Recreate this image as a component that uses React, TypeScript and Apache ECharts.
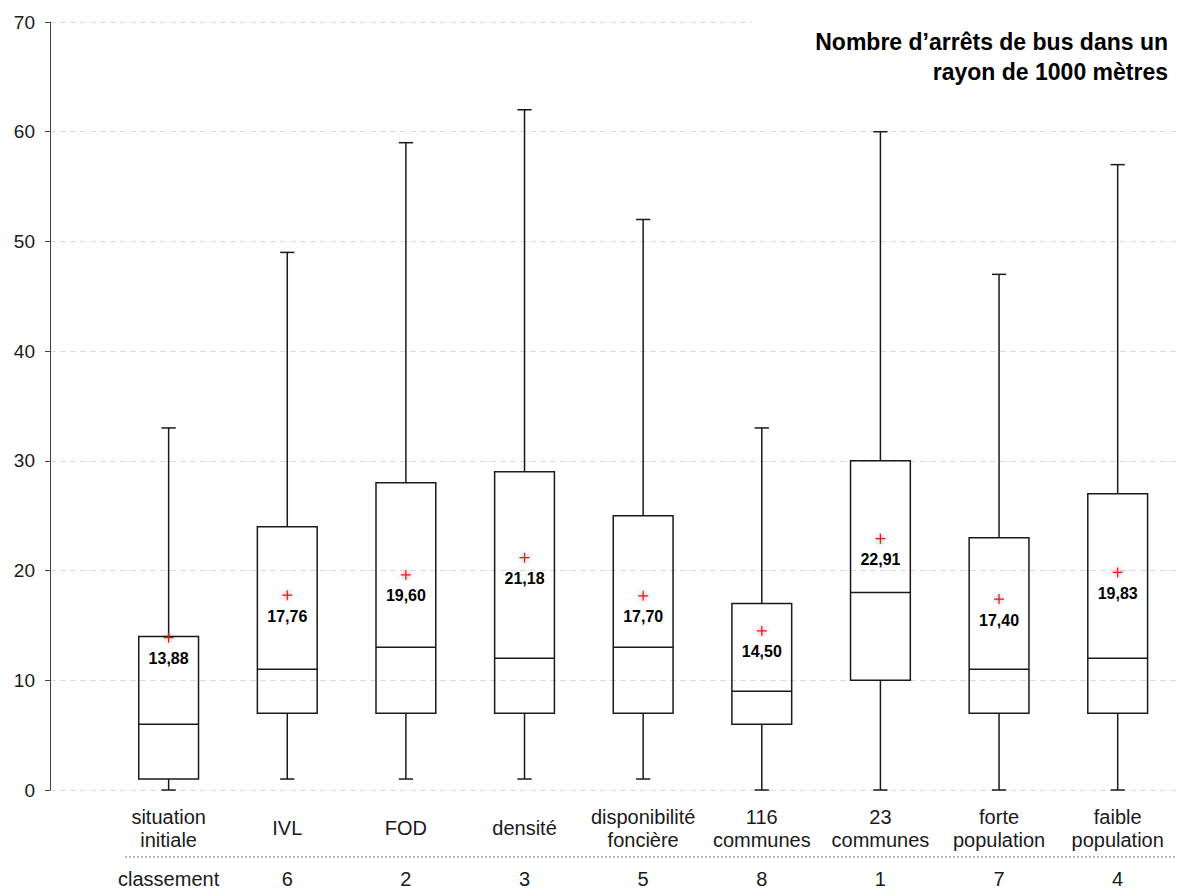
import React, { useEffect, useRef } from "react";
import * as echarts from "echarts";

const categories = [
  "situation\ninitiale",
  "IVL",
  "FOD",
  "densité",
  "disponibilité\nfoncière",
  "116\ncommunes",
  "23\ncommunes",
  "forte\npopulation",
  "faible\npopulation",
];
const whiskerLow = [0, 1, 1, 1, 1, 0, 0, 0, 0];
const q1 = [1, 7, 7, 7, 7, 6, 10, 7, 7];
const median = [6, 11, 13, 12, 13, 9, 18, 11, 12];
const q3 = [14, 24, 28, 29, 25, 17, 30, 23, 27];
const whiskerHigh = [33, 49, 59, 62, 52, 33, 60, 47, 57];
const means = [13.88, 17.76, 19.6, 21.18, 17.7, 14.5, 22.91, 17.4, 19.83];
const rankHeader = "classement";
const ranks = [6, 2, 3, 5, 8, 1, 7, 4];
const yTicks = [0, 10, 20, 30, 40, 50, 60, 70];
const titleLines = ["Nombre d’arrêts de bus dans un", "rayon de 1000 mètres"];

const FONT = '"Liberation Sans", Arial, Helvetica, sans-serif';

export default function App() {
  const ref = useRef<HTMLDivElement>(null);

  useEffect(() => {
    const chart = echarts.init(ref.current!, null, { renderer: "svg" });
    const boxData = categories.map((_, i) => [
      i + 1,
      whiskerLow[i],
      q1[i],
      median[i],
      q3[i],
      whiskerHigh[i],
    ]);
    const meanData = means.map((m, i) => [i + 1, m]);
    const stroke = "#1a1a1a";

    const option: any = {
      animation: false,
      backgroundColor: "#fff",
      textStyle: { fontFamily: FONT },
      grid: { left: 50, right: 0, top: 22, bottom: 101, containLabel: false },
      xAxis: [
        {
          type: "value",
          min: 0,
          max: 9.5,
          interval: 1,
          position: "bottom",
          axisLine: { show: false },
          axisTick: { show: false },
          splitLine: { show: false },
          axisLabel: {
            margin: 38,
            verticalAlign: "middle",
            fontSize: 20,
            lineHeight: 23,
            color: "#1a1a1a",
            fontFamily: FONT,
            showMaxLabel: false,
            formatter: (v: number) =>
              Number.isInteger(v) && v >= 1 && v <= categories.length ? categories[v - 1] : "",
          },
        },
        {
          type: "value",
          min: 0,
          max: 9.5,
          interval: 1,
          position: "bottom",
          offset: 0,
          axisLine: { show: false },
          axisTick: { show: false },
          splitLine: { show: false },
          axisLabel: {
            margin: 89,
            verticalAlign: "middle",
            fontSize: 20,
            color: "#1a1a1a",
            fontFamily: FONT,
            showMaxLabel: false,
            formatter: (v: number) => {
              if (v === 1) return rankHeader;
              if (Number.isInteger(v) && v >= 2 && v <= ranks.length + 1) return String(ranks[v - 2]);
              return "";
            },
          },
        },
      ],
      yAxis: {
        type: "value",
        min: yTicks[0],
        max: yTicks[yTicks.length - 1],
        interval: 10,
        axisLine: { show: true, lineStyle: { color: "#444", width: 1 } },
        axisTick: { show: true, length: 5, lineStyle: { color: "#444" } },
        axisLabel: { fontSize: 19, color: "#1a1a1a", margin: 15, fontFamily: FONT },
        splitLine: { show: true, lineStyle: { color: "#dcdcdc", type: [6, 4], width: 1 } },
      },
      series: [
        {
          type: "custom",
          xAxisIndex: 0,
          encode: { x: 0, y: [1, 2, 3, 4, 5] },
          data: boxData,
          z: 3,
          renderItem: (params: any, api: any) => {
            const x = api.value(0);
            const unit = api.size([1, 0])[0];
            const half = unit * 0.252;
            const cap = unit * 0.06;
            const pLow = api.coord([x, api.value(1)]);
            const pQ1 = api.coord([x, api.value(2)]);
            const pMed = api.coord([x, api.value(3)]);
            const pQ3 = api.coord([x, api.value(4)]);
            const pHigh = api.coord([x, api.value(5)]);
            const cx = pQ1[0];
            const ls = { stroke, lineWidth: 1.5, fill: null };
            return {
              type: "group",
              children: [
                { type: "line", shape: { x1: cx, y1: pHigh[1], x2: cx, y2: pQ3[1] }, style: ls },
                { type: "line", shape: { x1: cx, y1: pQ1[1], x2: cx, y2: pLow[1] }, style: ls },
                { type: "line", shape: { x1: cx - cap, y1: pHigh[1], x2: cx + cap, y2: pHigh[1] }, style: ls },
                { type: "line", shape: { x1: cx - cap, y1: pLow[1], x2: cx + cap, y2: pLow[1] }, style: ls },
                {
                  type: "rect",
                  shape: { x: cx - half, y: pQ3[1], width: half * 2, height: pQ1[1] - pQ3[1] },
                  style: { stroke, lineWidth: 1.5, fill: "none" },
                },
                { type: "line", shape: { x1: cx - half, y1: pMed[1], x2: cx + half, y2: pMed[1] }, style: ls },
              ],
            };
          },
        },
        {
          type: "scatter",
          xAxisIndex: 0,
          data: meanData,
          z: 5,
          symbol: "path://M4.4,0H5.6V4.4H10V5.6H5.6V10H4.4V5.6H0V4.4H4.4Z",
          symbolSize: 10,
          itemStyle: {
            color: "#e8141b",
            opacity: 1,
            shadowBlur: 5,
            shadowColor: "rgba(0,0,0,0.45)",
          },
          label: {
            show: true,
            position: "bottom",
            distance: 8,
            fontSize: 16,
            fontWeight: "bold",
            color: "#000",
            textBorderWidth: 0,
            fontFamily: FONT,
            formatter: (p: any) => p.value[1].toFixed(2).replace(".", ","),
          },
        },
      ],
      graphic: [
        {
          type: "rect",
          left: 752,
          top: 8,
          z: 10,
          shape: { width: 425, height: 90 },
          style: { fill: "#fff" },
        },
        {
          type: "text",
          right: 9,
          top: 30,
          z: 11,
          style: { text: titleLines[0], font: `bold 23px ${FONT}`, fill: "#000" },
        },
        {
          type: "text",
          right: 9,
          top: 60,
          z: 11,
          style: { text: titleLines[1], font: `bold 23px ${FONT}`, fill: "#000" },
        },
        {
          type: "line",
          z: 10,
          shape: { x1: 125, y1: 857, x2: 1177, y2: 857 },
          style: { stroke: "#777", lineWidth: 1, lineDash: [2, 2] },
        },
      ],
    };
    chart.setOption(option);
    return () => chart.dispose();
  }, []);

  return (
    <div
      ref={ref}
      style={{ position: "fixed", left: 0, top: 0, width: 1177, height: 891, background: "#fff" }}
    />
  );
}
